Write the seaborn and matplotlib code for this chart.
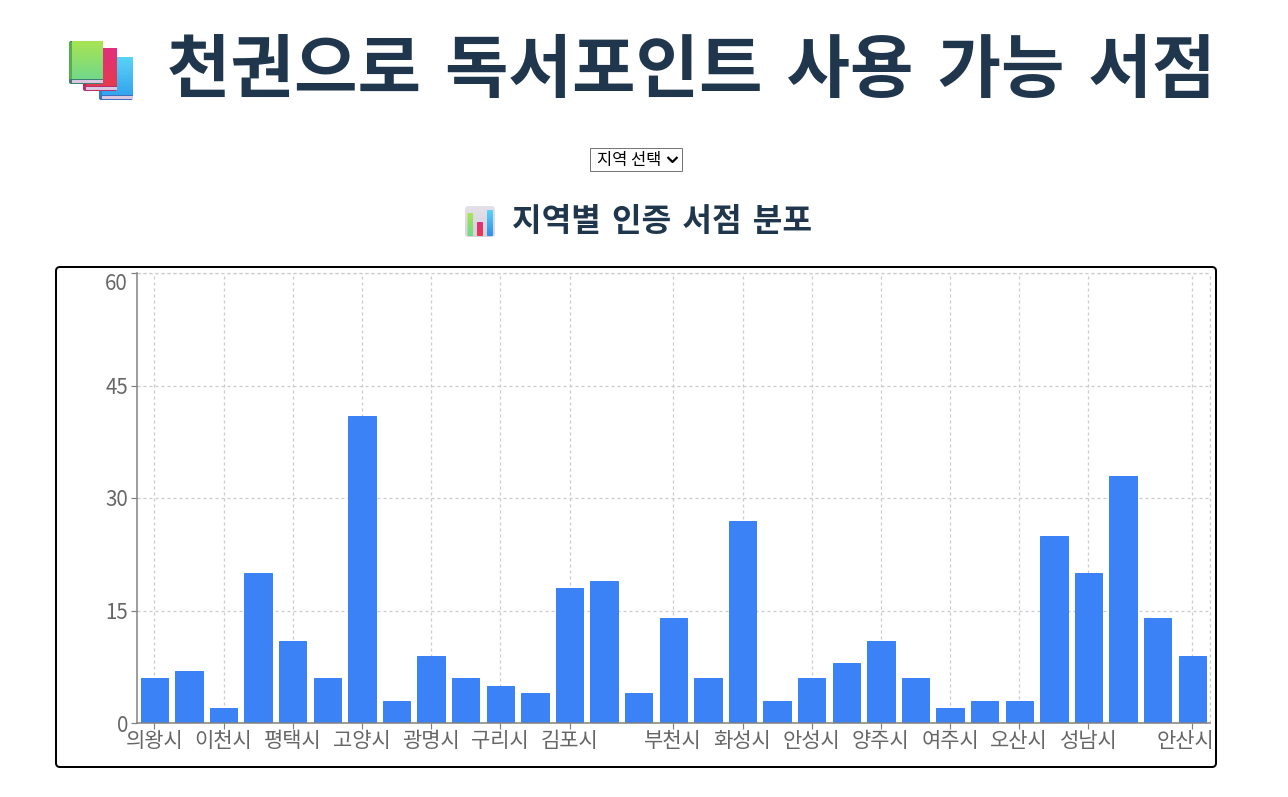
import numpy as np
import pandas as pd
import matplotlib
matplotlib.use("Agg")
import matplotlib.pyplot as plt
import seaborn as sns
from matplotlib.patches import FancyBboxPatch, Rectangle
from matplotlib.transforms import ScaledTranslation

# --- data ---
bar_values = [6, 7, 2, 20, 11, 6, 41, 3, 9, 6, 5, 4, 18, 19, 4, 14, 6, 27, 3, 6, 8, 11, 6, 2, 3, 3, 25, 20, 33, 14, 9]
tick_positions = [0, 2, 4, 6, 8, 10, 12, 15, 17, 19, 21, 23, 25, 27, 30]
tick_labels = ["의왕시", "이천시", "평택시", "고양시", "광명시", "구리시", "김포시", "부천시",
               "화성시", "안성시", "양주시", "여주시", "오산시", "성남시", "안산시"]
y_ticks = [0, 15, 30, 45, 60]
page_title = "천권으로 독서포인트 사용 가능 서점"
chart_title = "지역별 인증 서점 분포"
select_text = "지역 선택"

W, H = 1288, 797
sns.set_theme(style="white")
plt.rcParams["font.family"] = ["Noto Sans CJK KR", "DejaVu Sans"]
wide_space = ["DejaVu Sans", "Noto Sans CJK KR"]  # wider word gaps, Hangul from the CJK family
PT = 0.72  # px -> pt at dpi 100

fig = plt.figure(figsize=(W / 100, H / 100), dpi=100, facecolor="white")

# page overlay in pixel coordinates
bg = fig.add_axes([0, 0, 1, 1], zorder=0)
bg.set_xlim(0, W); bg.set_ylim(H, 0); bg.axis("off")

# chart card
bg.add_patch(FancyBboxPatch((56, 267), 1160, 500, boxstyle="round,pad=0,rounding_size=4",
                            fc="white", ec="black", lw=2 * PT))

# chart
ax = fig.add_axes([137 / W, (H - 723) / H, 1072.6 / W, 450 / H], zorder=1)
ax.patch.set_alpha(0)
df = pd.DataFrame({"pos": np.arange(len(bar_values)), "value": bar_values})
sns.barplot(data=df, x="pos", y="value", color="#3b82f6", saturation=1, width=0.79,
            edgecolor="#3b82f6", linewidth=1 * PT, ax=ax, zorder=3)
ax.set_xlim(-0.5, len(bar_values) - 0.5)
ax.set_ylim(0, 60)
ax.set_xlabel(""); ax.set_ylabel("")
ax.set_yticks(y_ticks)
ax.set_xticks(tick_positions)
ax.set_xticklabels(tick_labels)
grid = dict(color="#cccccc", lw=1 * PT * 1.3, dashes=(3 / 1.3, 3 / 1.3), zorder=0)
ax.grid(True, axis="both", **{k: v for k, v in grid.items() if k != "zorder"})
ax.set_axisbelow(True)
ax.axvline(len(bar_values) - 0.5, clip_on=False, **grid)
ax.axhline(60, clip_on=False, **grid)
for s in ("top", "right"):
    ax.spines[s].set_visible(False)
for s in ("left", "bottom"):
    ax.spines[s].set_color("#808080"); ax.spines[s].set_linewidth(1.5 * PT); ax.spines[s].set_zorder(4)
ax.tick_params(axis="both", length=6 * PT, width=1.2 * PT, color="#808080", labelcolor="#666666",
               labelsize=21 * PT, pad=2.2, left=True, bottom=True)
ax.tick_params(axis="y", labelsize=20.5 * PT)
ax.tick_params(axis="x", pad=1.0)
ylabels = ax.get_yticklabels()
ylabels[-1].set_transform(ylabels[-1].get_transform() + ScaledTranslation(0, -8 * PT / 72, fig.dpi_scale_trans))
xlabels = ax.get_xticklabels()
xlabels[-1].set_transform(xlabels[-1].get_transform() + ScaledTranslation(-6.5 * PT / 72, 0, fig.dpi_scale_trans))

# titles
dark = "#1f364d"
bg.text(691.5, 72, page_title, fontsize=69 * PT, fontweight="bold", color=dark, ha="center", va="center",
        family=wide_space)
bg.text(662.5, 222, chart_title, fontsize=32.2 * PT, fontweight="bold", color=dark, ha="center", va="center",
        family=wide_space)

# select box
bg.add_patch(Rectangle((590.5, 148), 92, 23, fc="white", ec="#767676", lw=1 * PT))
bg.text(629, 160, select_text, fontsize=16.5 * PT, color="black", ha="center", va="center")
bg.plot([667.5, 672.5, 677.5], [157, 162, 157], color="black", lw=2.2 * PT, solid_capstyle="butt")


def grad(x0, x1, y0, y1, c0, c1, radius=2):
    cm = matplotlib.colors.LinearSegmentedColormap.from_list("g", [c0, c1])
    im = bg.imshow(np.linspace(0, 1, 64)[:, None], cmap=cm, extent=(x0, x1, y1, y0), aspect="auto", zorder=2)
    clip = FancyBboxPatch((x0, y0), x1 - x0, y1 - y0, boxstyle=f"round,pad=0,rounding_size={radius}",
                          fc="none", ec="none", transform=bg.transData)
    bg.add_patch(clip)
    im.set_clip_path(clip)


def book(x0, y0, c0, c1, spine, foot, z):
    x1, y1 = x0 + 34, y0 + 43
    bg.add_patch(FancyBboxPatch((x0, y0), 34, 43, boxstyle="round,pad=0,rounding_size=2",
                                fc=foot, ec="none", zorder=z))
    bg.imshow(np.linspace(0, 1, 64)[:, None],
              cmap=matplotlib.colors.LinearSegmentedColormap.from_list("g", [c0, c1]),
              extent=(x0 + 3, x1, y1 - 5, y0), aspect="auto", zorder=z + 0.1)
    bg.add_patch(Rectangle((x0, y0 + 1), 3.5, 37, fc=spine, ec="none", zorder=z + 0.2))
    bg.add_patch(Rectangle((x0 + 3, y1 - 4), 31, 2.5, fc="#d9c8e0", ec="none", zorder=z + 0.3))


book(99, 57, "#5ad4f5", "#33a4ee", "#2f7fd6", "#3f6fc0", 3)
book(83, 48, "#e22f7c", "#e53a4e", "#c02468", "#b8306e", 4)
book(69, 41, "#a8e452", "#72d98a", "#55b04a", "#3f7f74", 5)

# chart icon
grad(465, 495, 206, 237, "#e4e0ea", "#d6d2de", radius=4)
grad(467.5, 473.5, 213, 236, "#a8e452", "#72d98a", radius=1)
grad(477, 483, 222, 236, "#e22f7c", "#e53a4e", radius=1)
grad(487, 493, 210, 236, "#5ad4f5", "#2f8fe8", radius=1)

bg.set_xlim(0, W); bg.set_ylim(H, 0)
fig.savefig("out.png", dpi=100, facecolor="white")
